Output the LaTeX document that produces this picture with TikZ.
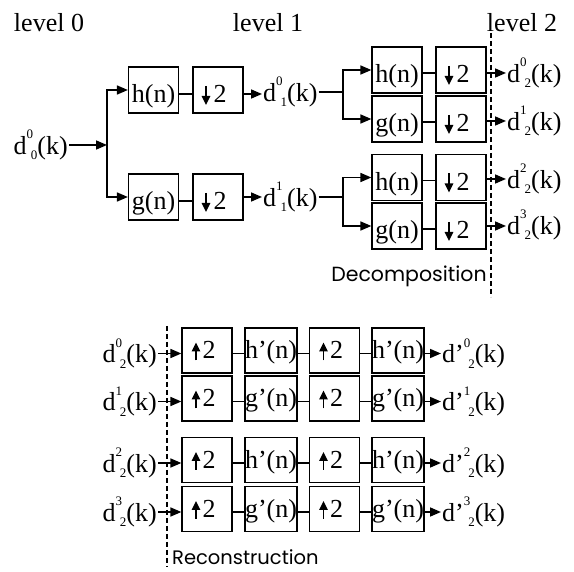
\documentclass[tikz,border=0pt]{standalone}
\usepackage{fontspec}
\setmainfont{Liberation Serif}
\newfontfamily\gothic{Poppins}
\usetikzlibrary{arrows.meta}
\newcommand\sml{\fontsize{13}{13}\selectfont}
\newcommand\dk[3]{d#1\raisebox{0.6em}{\sml #2}\kern-0.08em\raisebox{-0.22em}{\sml #3}(k)}
\begin{document}
\begin{tikzpicture}[x=1pt,y=-1pt,
  every node/.style={font=\fontsize{26}{30}\selectfont},
  blk/.style={draw,line width=1.2pt,minimum width=50pt,minimum height=46pt,inner sep=0pt,text height=26pt,text depth=0pt},
  rblk/.style={draw,line width=1.2pt,minimum width=50pt,minimum height=45pt,inner sep=0pt,text height=17pt,text depth=0pt},
  lbl/.style={inner sep=1pt},
  ln/.style={line width=1.6pt},
  arr/.style={line width=1.6pt,-{Triangle[length=11pt,width=9pt]}},
  glyph/.style={line width=1.6pt,-{Triangle[length=9pt,width=8.5pt]}},
  dsh/.style={line width=1.2pt,dash pattern=on 5pt off 3pt}]
\useasboundingbox (0,0) rectangle (574,572);
% titles
\node (t0) at (49,23) {level 0};
\node (t1) at (268,23) {level 1};
\node (t2) at (522,23) {level 2};
% level 0 input
\node[lbl,anchor=east] (d00) at (69,145) {\dk{}{0}{0}};
\coordinate (b0) at (107,145);
% level 1
\node[blk] (h1) at (153.5,90) {h(n)};
\node[blk] (dn1) at (218,90) {\hspace*{4pt}2};
\node[blk] (g1) at (153.5,197) {g(n)};
\node[blk] (dn2) at (218,197) {\hspace*{4pt}2};
\node[lbl,anchor=west] (d01) at (262,92) {\dk{}{0}{1}};
\node[lbl,anchor=west] (d11) at (262,197) {\dk{}{1}{1}};
\coordinate (b1) at (343,92);
\coordinate (b2) at (343,197);
% level 2
\node[blk] (H1) at (397,70) {h(n)};
\node[blk] (G1) at (397,119) {g(n)};
\node[blk] (H2) at (397,177.5) {h(n)};
\node[blk] (G2) at (397,226) {g(n)};
\node[blk] (D1) at (461,70) {\hspace*{4pt}2};
\node[blk] (D2) at (461,119) {\hspace*{4pt}2};
\node[blk] (D3) at (461,177.5) {\hspace*{4pt}2};
\node[blk] (D4) at (461,226) {\hspace*{4pt}2};
\node[lbl,anchor=west] (o0) at (506,73) {\dk{}{0}{2}};
\node[lbl,anchor=west] (o1) at (506,121) {\dk{}{1}{2}};
\node[lbl,anchor=west] (o2) at (506,179) {\dk{}{2}{2}};
\node[lbl,anchor=west] (o3) at (506,225) {\dk{}{3}{2}};
% down-arrow glyphs
\foreach \n in {dn1,dn2,D1,D2,D3,D4}{
  \draw[glyph] ([shift={(-12,-4)}]\n.center) -- ([shift={(-12,15)}]\n.center);
}
% decomposition connectors
\draw[arr] (d00.east) -- (b0);
\draw[arr] (b0) |- (h1.west);
\draw[arr] (b0) |- (g1.west);
\draw[ln] ([yshift=-4pt]h1.east) -- ([yshift=-4pt]dn1.west);
\draw[ln] ([yshift=-4pt]g1.east) -- ([yshift=-4pt]dn2.west);
\draw[arr] ([yshift=-4pt]dn1.east) -- ([yshift=-4pt]dn1.east -| d01.west);
\draw[arr] (dn2.east) -- (dn2.east -| d11.west);
\draw[ln] (d01.east) -- (b1);
\draw[ln] (d11.east) -- (b2);
\draw[arr] (b1) |- (H1.west);
\draw[arr] (b1) |- (G1.west);
\draw[arr] (b2) |- (H2.west);
\draw[arr] (b2) |- (G2.west);
\draw[ln] ([yshift=-3pt]H1.east) -- ([yshift=-3pt]D1.west);
\draw[ln] ([yshift=-3pt]G1.east) -- ([yshift=-3pt]D2.west);
\draw[ln] ([yshift=-3pt]H2.east) -- ([yshift=-3pt]D3.west);
\draw[ln] ([yshift=-3pt]G2.east) -- ([yshift=-3pt]D4.west);
\draw[arr] ([yshift=-3pt]D1.east) -- ([yshift=-3pt]D1.east -| o0.west);
\draw[arr] ([yshift=-2pt]D2.east) -- ([yshift=-2pt]D2.east -| o1.west);
\draw[arr] ([yshift=-1.5pt]D3.east) -- ([yshift=-1.5pt]D3.east -| o2.west);
\draw[arr] (D4.east) -- (D4.east -| o3.west);
\draw[dsh] (491,33) -- (491,297);
\node[font=\gothic\fontsize{20.5}{24}\selectfont] (dec) at (409,276) {Decomposition};
% reconstruction
\foreach \r/\y/\f/\s in {0/350.5/h/0,1/398.5/g/1,2/460/h/2,3/509/g/3}{
  \node[lbl,anchor=east] (i\r) at (158,\y+3) {\dk{}{\s}{2}};
  \node[rblk] (u\r a) at (207,\y) {\hspace*{4pt}2};
  \node[rblk] (f\r a) at (271,\y) {\f'(n)};
  \node[rblk] (u\r b) at (334.5,\y) {\hspace*{4pt}2};
  \node[rblk] (f\r b) at (398,\y) {\f'(n)};
  \node[lbl,anchor=west] (q\r) at (441,\y+3) {\dk{'}{\s}{2}};
  \draw[glyph] ([shift={(-11,10)}]u\r a.center) -- ([shift={(-11,-8)}]u\r a.center);
  \draw[glyph] ([shift={(-11,10)}]u\r b.center) -- ([shift={(-11,-8)}]u\r b.center);
  \draw[arr] ([yshift=-3pt]u\r a.west -| i\r.east) -- ([yshift=-3pt]u\r a.west);
  \draw[ln] ([yshift=-3pt]u\r a.east) -- ([yshift=-3pt]f\r a.west);
  \draw[ln] ([yshift=-3pt]f\r a.east) -- ([yshift=-3pt]u\r b.west);
  \draw[ln] ([yshift=-3pt]u\r b.east) -- ([yshift=-3pt]f\r b.west);
  \draw[arr] ([yshift=-3pt]f\r b.east) -- ([yshift=-3pt]f\r b.east -| q\r.west);
}
\draw[dsh] (167,326) -- (167,567);
\node[font=\gothic\fontsize{19.5}{22}\selectfont,anchor=west,inner sep=0pt] (rec) at (172,557) {Reconstruction};
\end{tikzpicture}
\end{document}
